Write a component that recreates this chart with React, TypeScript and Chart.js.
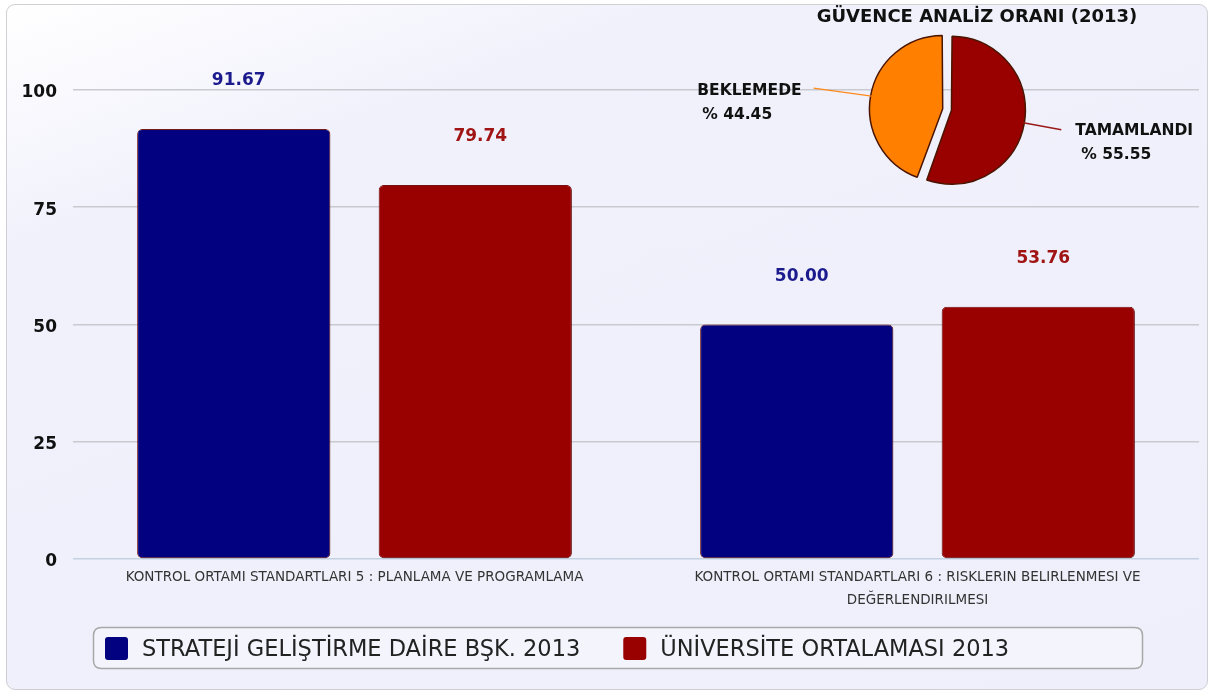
import React, { useEffect, useRef } from 'react';
import { Chart, registerables } from 'chart.js';

Chart.register(...registerables);

// ---------- data ----------
const categories: (string | string[])[] = [
  'KONTROL ORTAMI STANDARTLARI 5 : PLANLAMA VE PROGRAMLAMA',
  ['KONTROL ORTAMI STANDARTLARI 6 : RISKLERIN BELIRLENMESI VE', 'DEĞERLENDIRILMESI'],
];
const seriesNames = ['STRATEJİ GELİŞTİRME DAİRE BŞK. 2013', 'ÜNİVERSİTE ORTALAMASI 2013'];
const strategyValues = [91.67, 50.0];
const universityValues = [79.74, 53.76];
const yTicks = [0, 25, 50, 75, 100];

const pieTitle = 'GÜVENCE ANALİZ ORANI (2013)';
const pieLabels = ['TAMAMLANDI', 'BEKLEMEDE'];
const pieValues = [55.55, 44.45];

// ---------- styles ----------
const FONT = '"DejaVu Sans", Verdana, sans-serif';
const barColors = ['#020280', '#990000'];
const valueLabelColors = ['#1b1b8e', '#a01414'];
const pieColors = ['#990000', '#ff8000'];
const pieLineColors = ['#9a1a1a', '#ff8a1a'];
const pieOffsets = [16, 19.5];

function roundRect(ctx: CanvasRenderingContext2D, x: number, y: number, w: number, h: number, r: number) {
  ctx.beginPath();
  ctx.moveTo(x + r, y);
  ctx.lineTo(x + w - r, y);
  ctx.quadraticCurveTo(x + w, y, x + w, y + r);
  ctx.lineTo(x + w, y + h - r);
  ctx.quadraticCurveTo(x + w, y + h, x + w - r, y + h);
  ctx.lineTo(x + r, y + h);
  ctx.quadraticCurveTo(x, y + h, x, y + h - r);
  ctx.lineTo(x, y + r);
  ctx.quadraticCurveTo(x, y, x + r, y);
  ctx.closePath();
}

const barShadowPlugin = {
  id: 'barShadow',
  beforeDatasetsDraw(chart: any) {
    const ctx = chart.ctx;
    ctx.save();
    ctx.shadowColor = 'rgba(0,0,0,0.22)';
    ctx.shadowBlur = 4;
    ctx.shadowOffsetX = 2;
    ctx.shadowOffsetY = 2;
  },
  afterDatasetsDraw(chart: any) {
    chart.ctx.restore();
  },
};

const barDecorPlugin = {
  id: 'barDecor',
  afterDraw(chart: any) {
    const ctx: CanvasRenderingContext2D = chart.ctx;
    ctx.save();
    // value labels
    ctx.font = `bold 17px ${FONT}`;
    ctx.textAlign = 'center';
    ctx.textBaseline = 'middle';
    chart.data.datasets.forEach((ds: any, di: number) => {
      const meta = chart.getDatasetMeta(di);
      meta.data.forEach((bar: any, i: number) => {
        ctx.fillStyle = valueLabelColors[di];
        ctx.fillText(Number(ds.data[i]).toFixed(2), bar.x + 5, bar.y - 48);
      });
    });
    // legend box
    roundRect(ctx, 93.5, 627.5, 1049, 41, 8);
    ctx.fillStyle = '#f4f4fd';
    ctx.fill();
    ctx.lineWidth = 1.5;
    ctx.strokeStyle = '#a8a8a8';
    ctx.stroke();
    let x = 105;
    ctx.font = `22.5px ${FONT}`;
    ctx.textAlign = 'left';
    chart.data.datasets.forEach((ds: any) => {
      ctx.fillStyle = ds.backgroundColor;
      roundRect(ctx, x, 637, 23, 23, 3);
      ctx.fill();
      ctx.fillStyle = '#222';
      ctx.fillText(ds.label, x + 37, 650);
      x += 37 + ctx.measureText(ds.label).width + 43;
    });
    ctx.restore();
  },
};

const pieDecorPlugin = {
  id: 'pieDecor',
  afterDraw(chart: any) {
    const ctx: CanvasRenderingContext2D = chart.ctx;
    ctx.save();
    ctx.fillStyle = '#111';
    ctx.font = `bold 18px ${FONT}`;
    ctx.textAlign = 'center';
    ctx.textBaseline = 'middle';
    ctx.fillText(pieTitle, 297, 17);

    const meta = chart.getDatasetMeta(0);
    const lineLens = [38, 58];
    meta.data.forEach((arc: any, i: number) => {
      const { x, y, startAngle, endAngle, outerRadius, circumference } = arc.getProps(
        ['x', 'y', 'startAngle', 'endAngle', 'outerRadius', 'circumference'],
        true
      );
      const mid = (startAngle + endAngle) / 2;
      // same translation that Chart.js applies to an offset arc
      const o = pieOffsets[i] / 4;
      const fix = 1 - Math.sin(Math.min(Math.PI, circumference || 0));
      const shift = o + o * fix;
      const cx = x + Math.cos(mid) * shift;
      const cy = y + Math.sin(mid) * shift;
      const sx = cx + Math.cos(mid) * (outerRadius - 1);
      const sy = cy + Math.sin(mid) * (outerRadius - 1);
      const L = lineLens[i];
      const right = Math.cos(mid) >= 0;
      const ex = sx + (right ? L : -L);
      const ey = sy + (right ? 7 : -8);
      ctx.strokeStyle = pieLineColors[i];
      ctx.lineWidth = 1.5;
      ctx.beginPath();
      ctx.moveTo(sx, sy);
      ctx.lineTo(ex, ey);
      ctx.stroke();
      ctx.fillStyle = '#111';
      ctx.font = `bold 15.5px ${FONT}`;
      const pct = '% ' + Number(pieValues[i]).toFixed(2);
      if (right) {
        ctx.textAlign = 'left';
        ctx.fillText(pieLabels[i], ex + 14, ey + 1);
        ctx.fillText(pct, ex + 20, ey + 25);
      } else {
        ctx.textAlign = 'right';
        ctx.fillText(pieLabels[i], ex - 12, ey + 3);
        const w = ctx.measureText(pieLabels[i]).width;
        ctx.textAlign = 'left';
        ctx.fillText(pct, ex - 12 - w + 5, ey + 27);
      }
    });
    ctx.restore();
  },
};

export default function App() {
  const barRef = useRef<HTMLCanvasElement>(null);
  const pieRef = useRef<HTMLCanvasElement>(null);

  useEffect(() => {
    const bar = new Chart(barRef.current as HTMLCanvasElement, {
      type: 'bar',
      data: {
        labels: categories as any,
        datasets: [
          {
            label: seriesNames[0],
            data: strategyValues,
            backgroundColor: barColors[0],
            borderColor: '#7a1c1c',
            borderWidth: 1,
            borderRadius: 5,
            borderSkipped: false,
            categoryPercentage: 0.858,
            barPercentage: 0.8,
          },
          {
            label: seriesNames[1],
            data: universityValues,
            backgroundColor: barColors[1],
            borderColor: '#7a1010',
            borderWidth: 1,
            borderRadius: 5,
            borderSkipped: false,
            categoryPercentage: 0.858,
            barPercentage: 0.8,
          },
        ],
      },
      options: {
        animation: false,
        responsive: false,
        events: [],
        layout: { padding: { left: 0, top: 43, right: 13, bottom: 0 } },
        plugins: { legend: { display: false }, tooltip: { enabled: false }, title: { display: false } },
        scales: {
          x: {
            afterFit: (axis: any) => {
              axis.height = 136;
            },
            ticks: {
              padding: 7,
              color: '#333',
              maxRotation: 0,
              autoSkip: false,
              font: { family: FONT, size: 13.5, lineHeight: '23px' as any },
            },
            grid: { display: false, drawTicks: false },
            border: { display: false },
          },
          y: {
            min: 0,
            max: 110,
            afterBuildTicks: (axis: any) => {
              axis.ticks = yTicks.map((v) => ({ value: v }));
            },
            afterFit: (axis: any) => {
              axis.width = 73;
            },
            ticks: {
              padding: 16,
              labelOffset: 3,
              color: '#111',
              font: { family: FONT, size: 17, weight: 'bold' },
            },
            grid: {
              drawTicks: false,
              lineWidth: 1.5,
              color: (c: any) => (c.tick && c.tick.value === 0 ? '#c3d2e2' : '#c9c9d0'),
            },
            border: { display: false },
          },
        },
      },
      plugins: [barShadowPlugin, barDecorPlugin],
    });

    const pie = new Chart(pieRef.current as HTMLCanvasElement, {
      type: 'pie',
      data: {
        labels: pieLabels,
        datasets: [
          {
            data: pieValues,
            backgroundColor: pieColors,
            borderColor: '#4a1400',
            borderWidth: 1.5,
            offset: pieOffsets,
            radius: 70,
          } as any,
        ],
      },
      options: {
        animation: false,
        responsive: false,
        events: [],
        rotation: 0,
        radius: 70,
        layout: { padding: { left: 5, top: 19, right: 0, bottom: 0 } },
        plugins: { legend: { display: false }, tooltip: { enabled: false } },
      } as any,
      plugins: [pieDecorPlugin],
    });

    return () => {
      bar.destroy();
      pie.destroy();
    };
  }, []);

  return (
    <div style={{ position: 'fixed', left: 0, top: 0, width: 1212, height: 695, background: '#ffffff' }}>
      <div
        style={{
          position: 'absolute',
          left: 6,
          top: 4,
          width: 1200,
          height: 684,
          borderRadius: 9,
          border: '1.5px solid #cfcfd4',
          background: 'linear-gradient(160deg, #ffffff 0%, #f1f1fc 22%, #efeffb 100%)',
        }}
      />
      <canvas
        ref={barRef}
        width={1212}
        height={695}
        style={{ position: 'absolute', left: 0, top: 0, width: 1212, height: 695 }}
      />
      <canvas
        ref={pieRef}
        width={530}
        height={200}
        style={{ position: 'absolute', left: 680, top: 0, width: 530, height: 200 }}
      />
    </div>
  );
}
